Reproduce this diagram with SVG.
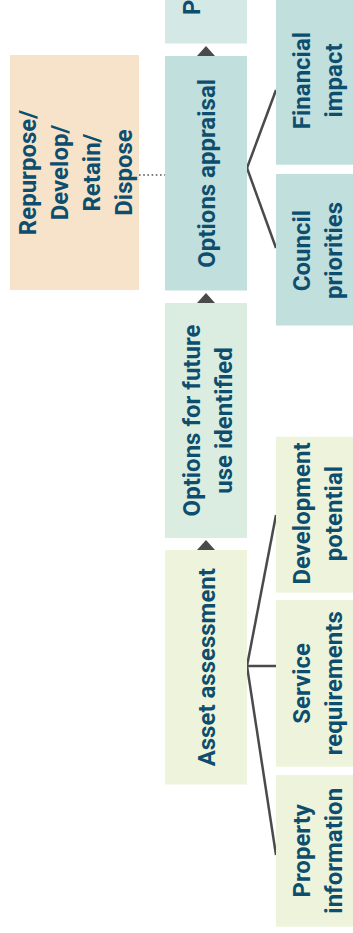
<svg xmlns="http://www.w3.org/2000/svg" width="353" height="933" viewBox="0 0 353 933">
<style>
.t{font-family:Roboto,"Liberation Sans",sans-serif;font-weight:bold;font-size:24px;fill:#0d4e6e;text-anchor:middle}
.c{stroke:#4a4a4a;stroke-width:2.5;fill:none}
.d{stroke:#555;stroke-width:1.6;stroke-dasharray:1.6 2.6;fill:none}
.a{fill:#4a4a4a}
.teal{fill:#c1dfdd}
.pale{fill:#d4e8e6}
.mint{fill:#dbede1}
.lime{fill:#eef4db}
.peach{fill:#f7e3ca}
</style>
<rect width="353" height="933" fill="#fff"/>
<g id="connectors">
<line class="c" x1="247" y1="168" x2="276" y2="90"/>
<line class="c" x1="247" y1="168" x2="276" y2="248"/>
<line class="c" x1="247" y1="666" x2="276" y2="515"/>
<line class="c" x1="247" y1="666" x2="276" y2="666"/>
<line class="c" x1="247" y1="666" x2="276" y2="855"/>
<line class="d" x1="139" y1="175" x2="165" y2="175"/>
<polygon class="a" points="197,56 215,56 206,46"/>
<polygon class="a" points="197,303 215,303 206,293"/>
<polygon class="a" points="197,550 215,550 206,540"/>
</g>
<g id="n-top">
<rect class="pale" x="165" y="-10" width="82" height="53.5"/>
<text class="t" style="text-anchor:start" transform="translate(199.5,15) rotate(-90)">P</text>
</g>
<g id="n-options-appraisal">
<rect class="teal" x="165" y="56" width="82" height="234.5"/>
<text class="t" transform="translate(206,173.3) rotate(-90)"><tspan x="0" y="8.5">Options appraisal</tspan></text>
</g>
<g id="n-options-future">
<rect class="mint" x="165" y="303" width="82" height="235"/>
<text class="t" transform="translate(207,420.5) rotate(-90)"><tspan x="0" y="-7.5">Options for future</tspan><tspan x="0" y="24.5">use identified</tspan></text>
</g>
<g id="n-asset-assessment">
<rect class="lime" x="165" y="550" width="82" height="234.5"/>
<text class="t" transform="translate(206,667.2) rotate(-90)"><tspan x="0" y="8.5">Asset assessment</tspan></text>
</g>
<g id="n-repurpose">
<rect class="peach" x="10" y="55" width="129" height="235"/>
<text class="t" transform="translate(75.5,172.5) rotate(-90)"><tspan x="0" y="-39.5">Repurpose/</tspan><tspan x="0" y="-7.5">Develop/</tspan><tspan x="0" y="24.5">Retain/</tspan><tspan x="0" y="56.5">Dispose</tspan></text>
</g>
<g id="n-financial-impact">
<rect class="teal" x="276" y="-4" width="82" height="168.7"/>
<text class="t" transform="translate(317,80.5) rotate(-90)"><tspan x="0" y="-7.5">Financial</tspan><tspan x="0" y="24.5">impact</tspan></text>
</g>
<g id="n-council-priorities">
<rect class="teal" x="276" y="174" width="82" height="151.5"/>
<text class="t" transform="translate(317,250.5) rotate(-90)"><tspan x="0" y="-7.5">Council</tspan><tspan x="0" y="24.5">priorities</tspan></text>
</g>
<g id="n-development-potential">
<rect class="lime" x="276" y="436.7" width="82" height="156"/>
<text class="t" transform="translate(317,513.5) rotate(-90)"><tspan x="0" y="-7.5">Development</tspan><tspan x="0" y="24.5">potential</tspan></text>
</g>
<g id="n-service-requirements">
<rect class="lime" x="276" y="600" width="82" height="166.7"/>
<text class="t" transform="translate(317,683.3) rotate(-90)"><tspan x="0" y="-7.5">Service</tspan><tspan x="0" y="24.5">requirements</tspan></text>
</g>
<g id="n-property-information">
<rect class="lime" x="276" y="775" width="82" height="151.7"/>
<text class="t" transform="translate(317,850.8) rotate(-90)"><tspan x="0" y="-7.5">Property</tspan><tspan x="0" y="24.5">information</tspan></text>
</g>
</svg>
